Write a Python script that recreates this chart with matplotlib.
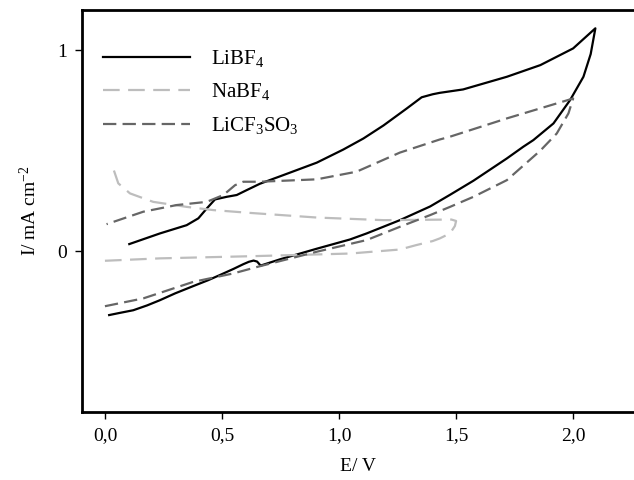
import numpy as np
import matplotlib.pyplot as plt

plt.rcParams['font.family'] = ['Liberation Serif', 'DejaVu Serif']
plt.rcParams['mathtext.fontset'] = 'custom'
plt.rcParams['mathtext.rm'] = 'Liberation Serif'
plt.rcParams['mathtext.it'] = 'Liberation Serif:italic'

# LiBF4: прямий хід (нижня гілка), потім зворотний (верхня)
E_li = [0.018, 0.06, 0.121, 0.18, 0.235, 0.30, 0.377, 0.44, 0.491, 0.55, 0.591, 0.615,
        0.635, 0.650, 0.665, 0.75, 0.905, 1.047, 1.118, 1.26, 1.389, 1.43, 1.474, 1.574,
        1.717, 1.787, 1.83, 1.916, 1.987, 2.044, 2.075, 2.095,
        2.0, 1.86, 1.717, 1.53, 1.43, 1.40, 1.353, 1.29, 1.19, 1.104, 1.018, 0.905,
        0.762, 0.662, 0.605, 0.563, 0.520, 0.470, 0.435, 0.399, 0.349, 0.235, 0.104]
I_li = [-0.318, -0.308, -0.294, -0.27, -0.244, -0.21, -0.174, -0.145, -0.119, -0.088, -0.065, -0.053,
        -0.047, -0.052, -0.072, -0.04, 0.012, 0.058, 0.088, 0.154, 0.222, 0.25, 0.28, 0.35,
        0.461, 0.519, 0.552, 0.635, 0.751, 0.867, 0.98, 1.108,
        1.008, 0.925, 0.867, 0.804, 0.787, 0.78, 0.765, 0.71, 0.625, 0.56, 0.505, 0.44,
        0.378, 0.335, 0.303, 0.279, 0.270, 0.257, 0.212, 0.163, 0.129, 0.088, 0.035]

# NaBF4
E_na = [0.0, 0.235, 0.634, 1.047, 1.26, 1.33, 1.40, 1.43, 1.474, 1.495, 1.50,
        1.48, 1.19, 0.905, 0.62, 0.463, 0.349, 0.206, 0.107, 0.057, 0.029]
I_na = [-0.048, -0.036, -0.025, -0.012, 0.008, 0.03, 0.05, 0.063, 0.088, 0.125, 0.15,
        0.157, 0.154, 0.167, 0.19, 0.204, 0.220, 0.245, 0.287, 0.337, 0.433]

# LiCF3SO3
E_cf = [0.0, 0.164, 0.377, 0.548, 0.662, 0.905, 1.118, 1.26, 1.389, 1.474, 1.574, 1.717,
        1.86, 1.93, 1.98, 2.0,
        1.86, 1.717, 1.474, 1.43, 1.26, 1.075, 0.905, 0.662, 0.591, 0.556, 0.506, 0.435,
        0.306, 0.164, 0.007]
I_cf = [-0.274, -0.235, -0.153, -0.111, -0.075, -0.003, 0.055, 0.121, 0.179, 0.22, 0.27, 0.353,
        0.50, 0.585, 0.685, 0.759,
        0.71, 0.66, 0.569, 0.555, 0.49, 0.395, 0.357, 0.345, 0.345, 0.328, 0.279, 0.245,
        0.229, 0.196, 0.134]

xticks = [0.0, 0.5, 1.0, 1.5, 2.0]
xticklabels = ['0,0', '0,5', '1,0', '1,5', '2,0']
yticks = [0, 1]

fig = plt.figure(figsize=(6.34, 4.8), dpi=100)
ax = fig.add_axes([82/634, 68/480, 1 - 82/634, 402/480])

ax.plot(E_li, I_li, color='black', lw=1.6, label='LiBF$_4$')
ax.plot(E_na, I_na, color='#bdbdbd', lw=1.6, dashes=(7.5, 3.8), label='NaBF$_4$')
ax.plot(E_cf, I_cf, color='#666666', lw=1.6, dashes=(6, 2.8), label='LiCF$_3$SO$_3$')

ax.set_xlim(-0.098, 2.26)
ax.set_ylim(-0.80, 1.199)
ax.set_xticks(xticks)
ax.set_xticklabels(xticklabels)
ax.set_yticks(yticks)
ax.tick_params(labelsize=14, length=5, width=1, direction='out', pad=6)

ax.spines['right'].set_visible(False)
for s in ['left', 'top', 'bottom']:
    ax.spines[s].set_linewidth(2)

ax.set_xlabel('E/ V', fontsize=14, labelpad=10)
ax.set_ylabel('I/ mA cm$^{-2}$', fontsize=14, labelpad=12)

ax.legend(loc='upper left', bbox_to_anchor=(0.0226, 0.9266), frameon=False, fontsize=15,
          handlelength=4.2, borderaxespad=0, labelspacing=0.6, handletextpad=1.0)

fig.savefig('out.png', dpi=100)
